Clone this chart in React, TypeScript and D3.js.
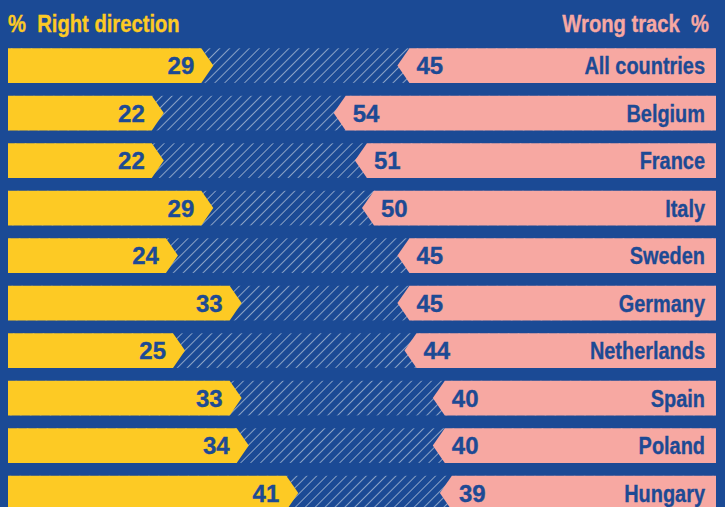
import React from "react";
import * as d3 from "d3";

const countries = ["All countries", "Belgium", "France", "Italy", "Sweden", "Germany", "Netherlands", "Spain", "Poland", "Hungary"];
const rightDirection = [29, 22, 22, 29, 24, 33, 25, 33, 34, 41];
const wrongTrack = [45, 54, 51, 50, 45, 45, 44, 40, 40, 39];
const headerLeft = "%  Right direction";
const headerRight = "Wrong track  %";

const W = 725;
const H = 507;
const BG = "#1b4a95";
const YELLOW = "#fdca24";
const PINK = "#f7a8a2";
const TEXT = "#1d4a94";
const HATCH = "#8aa2c6";
const FONT = "'Liberation Sans', Arial, sans-serif";

function T({ x, y, anchor, fill, size, sx, children }: { x: number; y: number; anchor?: string; fill: string; size: number; sx: number; children: React.ReactNode }) {
  return (
    <text
      transform={`translate(${x},${y}) scale(${sx},1)`}
      textAnchor={anchor || "start"}
      fill={fill}
      stroke={fill}
      strokeWidth={0.35}
      fontFamily={FONT}
      fontWeight="bold"
      fontSize={size}
      style={{ whiteSpace: "pre" }}
    >
      {children}
    </text>
  );
}

export default function App() {
  const x = d3.scaleLinear().domain([0, 100]).range([8, 716]);
  const step = 47.5;
  const y = d3
    .scaleBand<string>()
    .domain(countries)
    .range([48.3 - 0.136 * step, 48.3 - 0.136 * step + countries.length * step])
    .paddingInner(0.272)
    .paddingOuter(0.136);
  const bw = y.bandwidth();
  const tip = 12;

  return (
    <div style={{ position: "fixed", left: 0, top: 0 }}>
      <svg width={W} height={H} style={{ display: "block" }}>
        <defs>
          <pattern id="hatch" patternUnits="userSpaceOnUse" width="7" height="7" patternTransform="rotate(45)">
            <rect width="7" height="7" fill={BG} />
            <line x1="0" y1="0" x2="0" y2="7" stroke={HATCH} strokeWidth="2" />
          </pattern>
        </defs>
        <rect width={W} height={H} fill={BG} />
        <T x={8} y={31.5} fill={YELLOW} size={23.5} sx={0.86}>{headerLeft}</T>
        <T x={709} y={31.5} anchor="end" fill={PINK} size={23.5} sx={0.86}>{headerRight}</T>
        {countries.map((c, i) => {
          const y0 = y(c)!;
          const y1 = y0 + bw;
          const ym = y0 + bw / 2;
          const xl = x(0);
          const xr = x(100);
          const yv = x(rightDirection[i]);
          const wv = x(100 - wrongTrack[i]);
          const yPath = `M${xl},${y0}H${yv - tip}L${yv},${ym}L${yv - tip},${y1}H${xl}Z`;
          const pPath = `M${xr},${y0}H${wv + tip}L${wv},${ym}L${wv + tip},${y1}H${xr}Z`;
          return (
            <g key={c}>
              <rect x={xl} y={y0} width={xr - xl} height={bw} fill="url(#hatch)" />
              <path d={yPath} fill={YELLOW} />
              <path d={pPath} fill={PINK} />
              <T x={yv - 19} y={ym + 8.5} anchor="end" fill={TEXT} size={24} sx={1}>{rightDirection[i]}</T>
              <T x={wv + 19} y={ym + 8.5} fill={TEXT} size={24} sx={1}>{wrongTrack[i]}</T>
              <T x={705} y={ym + 8.5} anchor="end" fill={TEXT} size={24} sx={0.83}>{c}</T>
            </g>
          );
        })}
      </svg>
    </div>
  );
}
